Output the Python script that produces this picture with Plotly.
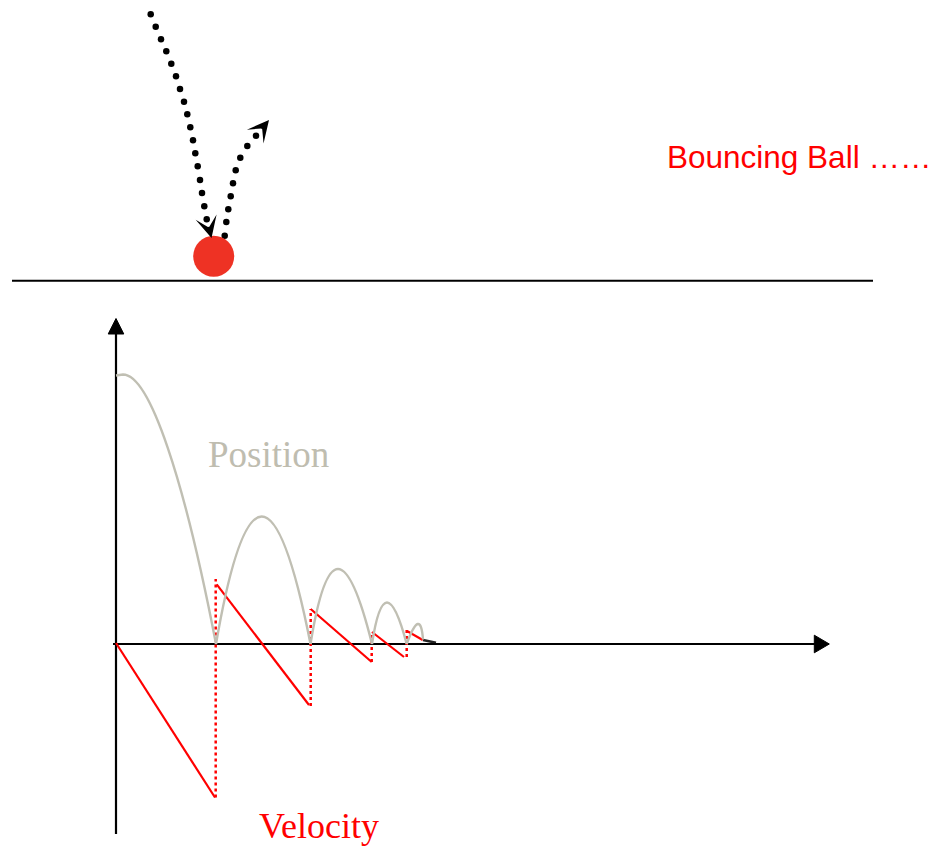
import plotly.graph_objects as go

# ---------------- data (chart units: x = time, y = value) ----------------
# position: first drop (starts at top), then bounce arcs
drop_start_h = 26.85
drop_peak_t, drop_peak_h, drop_land_t = 0.7, 26.95, 10.0
arc_start_t = [10.0, 19.45, 25.6, 29.07]
arc_end_t = [19.45, 25.6, 29.07, 30.7]
arc_end_h = [0.0, 0.0, 0.0, 0.45]
arc_peak_t = [14.57, 22.2, 27.1, 30.17]
arc_peak_h = [12.75, 7.5, 4.15, 2.0]
tail_t = [30.7, 32.0]
tail_h = [0.4, 0.13]

# velocity: straight segments between bounces
vel_t0 = [0.0, 10.07, 19.47, 25.6, 29.1]
vel_v0 = [0.1, 5.97, 3.5, 1.2, 1.3]
vel_t1 = [9.9, 19.3, 25.57, 28.8, 30.67]
vel_v1 = [-15.35, -6.1, -1.8, -1.3, 0.4]
# velocity jumps at impacts (dotted)
jump_t = [9.97, 19.47, 25.57, 29.07]
jump_lo = [-15.35, -6.2, -1.8, -1.3]
jump_hi = [6.5, 3.5, 1.2, 1.4]

# ball sketch (top)
ball_x, ball_y = [9.77], [38.77]
fall_x = [3.47, 3.97, 4.50, 5.03, 5.53, 6.00, 6.40, 6.80, 7.13, 7.43, 7.70, 7.93, 8.17, 8.40, 8.60, 8.83, 9.07]
fall_y = [62.97, 61.73, 60.47, 59.27, 58.03, 56.77, 55.50, 54.23, 52.97, 51.67, 50.37, 49.07, 47.77, 46.40, 45.10, 43.77, 42.47]
rise_x = [10.87, 11.03, 11.23, 11.47, 11.70, 11.97, 12.43, 13.13, 14.00]
rise_y = [40.83, 42.20, 43.47, 44.77, 46.07, 47.37, 48.63, 49.80, 50.83]
fall_tip = (9.55, 40.6)
rise_tip = (15.3, 52.4)
ground_x = [-10.4, 75.7]
ground_y = [36.33, 36.33]

# axes of the graph
yaxis_x, yaxis_y = [0, 0], [-19.0, 31.2]
xaxis_x, xaxis_y = [-0.3, 69.9], [0, 0]
yarrow_x, yarrow_y = [-0.78, 0.78, 0, -0.78], [31.0, 31.0, 32.55, 31.0]
xarrow_x, xarrow_y = [69.83, 69.83, 71.33, 69.83], [0.88, -0.88, 0, 0.88]

GRAY = "#C0BFB3"
RED = "#FF0000"

fig = go.Figure()

# ground line and ball
fig.add_trace(go.Scatter(x=ground_x, y=ground_y, mode="lines",
                         line=dict(color="black", width=2), hoverinfo="skip"))
fig.add_trace(go.Scatter(x=fall_x + [None] + rise_x, y=fall_y + [None] + rise_y, mode="markers",
                         marker=dict(color="black", size=6.5), hoverinfo="skip"))
fig.add_trace(go.Scatter(x=ball_x, y=ball_y, mode="markers",
                         marker=dict(color="rgb(238,50,36)", size=41, line=dict(width=0)), hoverinfo="skip"))

# position curves as bezier shapes
shapes = []
d = drop_land_t - drop_peak_t
p1 = (drop_peak_t + 0.29 * d, drop_peak_h)
p2 = (drop_peak_t + 0.66 * d, 0.608 * drop_peak_h)
path = (f"M 0,{drop_start_h} L {drop_peak_t},{drop_peak_h} "
        f"C {p1[0]},{p1[1]} {p2[0]},{p2[1]} {drop_land_t},0")
shapes.append(dict(type="path", path=path, xref="x", yref="y",
                   line=dict(color=GRAY, width=2.4)))
for a, b, eh, pt, ph in zip(arc_start_t, arc_end_t, arc_end_h, arc_peak_t, arc_peak_h):
    cx = (4 * pt - a - b) / 2
    cy = (4 * ph - 0 - eh) / 2
    shapes.append(dict(type="path", path=f"M {a},0 Q {cx},{cy} {b},{eh}", xref="x", yref="y",
                       line=dict(color=GRAY, width=2.4)))

fig.add_trace(go.Scatter(x=tail_t, y=tail_h, mode="lines",
                         line=dict(color="#222222", width=2.5), hoverinfo="skip"))

# axes
fig.add_trace(go.Scatter(x=yaxis_x, y=yaxis_y, mode="lines",
                         line=dict(color="black", width=2.2), hoverinfo="skip"))
fig.add_trace(go.Scatter(x=xaxis_x, y=xaxis_y, mode="lines",
                         line=dict(color="black", width=2.2), hoverinfo="skip"))
for ax_, ay_ in [(yarrow_x, yarrow_y), (xarrow_x, xarrow_y)]:
    fig.add_trace(go.Scatter(x=ax_, y=ay_, mode="lines", fill="toself", fillcolor="black",
                             line=dict(color="black", width=1), hoverinfo="skip"))

# velocity
vx, vy = [], []
for t0, v0, t1, v1 in zip(vel_t0, vel_v0, vel_t1, vel_v1):
    vx += [t0, t1, None]
    vy += [v0, v1, None]
fig.add_trace(go.Scatter(x=vx, y=vy, mode="lines", line=dict(color=RED, width=2.2), hoverinfo="skip"))
jx, jy = [], []
for t, lo, hi in zip(jump_t, jump_lo, jump_hi):
    jx += [t, t, None]
    jy += [lo, hi, None]
fig.add_trace(go.Scatter(x=jx, y=jy, mode="lines", line=dict(color=RED, width=2.5, dash="dot"),
                         hoverinfo="skip"))

annotations = []
# trajectory arrowheads
for tip, tail in [(fall_tip, (fall_x[-1], fall_y[-1])), (rise_tip, (rise_x[-1], rise_y[-1]))]:
    tx = (tip[0] + tail[0]) / 2
    ty = (tip[1] + tail[1]) / 2
    annotations.append(dict(x=tip[0], y=tip[1], ax=tx, ay=ty, xref="x", yref="y", axref="x", ayref="y",
                            showarrow=True, arrowhead=3, arrowsize=2.4, arrowwidth=1.5,
                            arrowcolor="black", text=""))

annotations.append(dict(x=54.85, y=48.75, xref="x", yref="y", text="Bouncing Ball \u2026\u2026",
                        showarrow=False, xanchor="left", yanchor="middle",
                        font=dict(family="Liberation Sans, Arial", size=31.5, color=RED)))
annotations.append(dict(x=15.2, y=19.0, xref="x", yref="y", text="Position",
                        showarrow=False, xanchor="center", yanchor="middle",
                        font=dict(family="Liberation Serif, Times New Roman", size=37, color="#BFBDB0")))
annotations.append(dict(x=20.3, y=-18.2, xref="x", yref="y", text="Velocity",
                        showarrow=False, xanchor="center", yanchor="middle",
                        font=dict(family="Liberation Serif, Times New Roman", size=36, color=RED)))

fig.update_layout(
    width=931, height=847, autosize=False,
    margin=dict(l=0, r=0, t=0, b=0),
    paper_bgcolor="white", plot_bgcolor="white",
    showlegend=False,
    xaxis=dict(range=[-11.6, 81.5], visible=False, fixedrange=True),
    yaxis=dict(range=[-20.3, 64.4], visible=False, fixedrange=True),
    shapes=shapes, annotations=annotations,
)

fig.write_html("out.html", config={"displayModeBar": False},
               post_script="document.body.style.margin='0px';document.body.style.overflow='hidden';")
